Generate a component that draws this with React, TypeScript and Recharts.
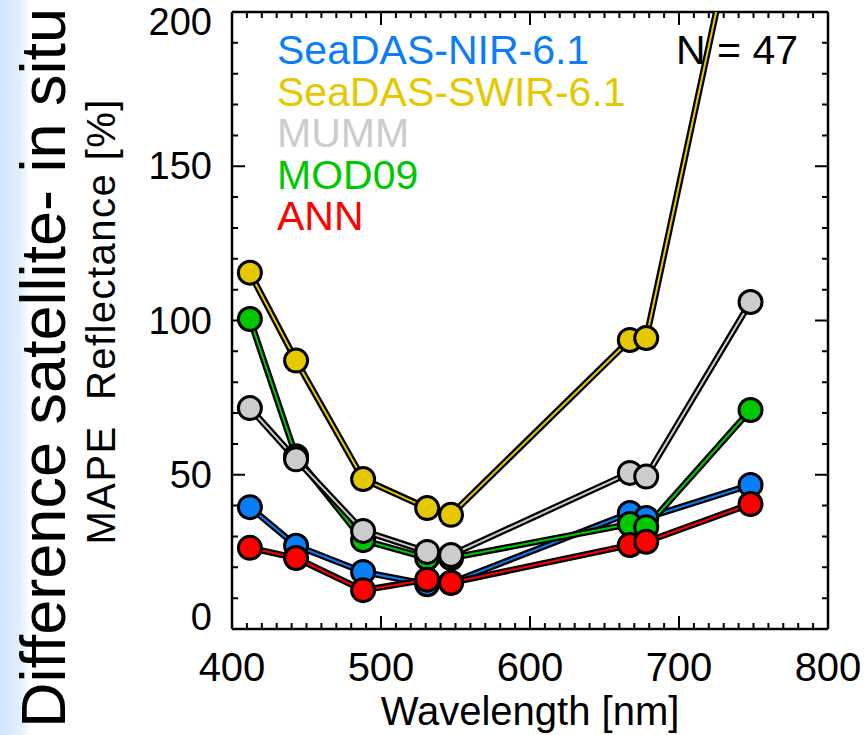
import React from "react";
import { LineChart, Line, XAxis, YAxis, ReferenceLine } from "recharts";

// MODIS band centres [nm]
const wavelengths = [412, 443, 488, 531, 547, 667, 678, 748];

// MAPE reflectance [%] per algorithm
const nir = [39.5, 27, 18.5, 14.5, 15, 37.6, 36, 46.7];
const swir = [115.5, 87, 48.6, 39.2, 37, 93.7, 94.3, 252];
const mumm = [71.6, 55, 31.8, 25, 24, 50.6, 49.4, 106];
const mod09 = [100.5, 56, 28.8, 23, 23, 34, 33, 71];
const ann = [26.3, 23, 12.6, 16, 15, 27.2, 28.3, 40.5];

const yMajor = [0, 50, 100, 150, 200];
const xMajor = [400, 500, 600, 700, 800];

const yTicks: number[] = [];
for (let v = 0; v <= 200; v += 10) yTicks.push(v);
const xTicks: number[] = [];
for (let v = 400; v <= 800; v += 10) xTicks.push(v);

const series = [
  { key: "nir", name: "SeaDAS-NIR-6.1", color: "#0a7ef8" },
  { key: "swir", name: "SeaDAS-SWIR-6.1", color: "#e6c800" },
  { key: "mumm", name: "MUMM", color: "#cccccc" },
  { key: "mod09", name: "MOD09", color: "#00c800" },
  { key: "ann", name: "ANN", color: "#ff0000" },
];
// order the curves are painted in
const drawOrder = ["nir", "mod09", "mumm", "swir", "ann"];

const data = wavelengths.map((wl, i) => ({
  wl,
  nir: nir[i],
  swir: swir[i],
  mumm: mumm[i],
  mod09: mod09[i],
  ann: ann[i],
}));

const FONT = "'Liberation Sans', Arial, Helvetica, sans-serif";

const xLabel = (p: any) => {
  if (!xMajor.includes(p.payload.value)) return <g key={"x" + p.index} />;
  return (
    <text key={"x" + p.index} x={p.x} y={Number(p.y) + 52} textAnchor="middle" fontSize={40} fontFamily={FONT} fill="#000">
      {p.payload.value}
    </text>
  );
};

const yLabel = (p: any) => {
  if (!yMajor.includes(p.payload.value)) return <g key={"y" + p.index} />;
  let shift = 0;
  if (p.payload.value === 200) shift = 10;
  if (p.payload.value === 0) shift = -12;
  return (
    <text key={"y" + p.index} x={Number(p.x) - 20} y={Number(p.y) + 13 + shift} textAnchor="end" fontSize={38} fontFamily={FONT} fill="#000">
      {p.payload.value}
    </text>
  );
};

// inward tick marks on both ends of a reference line
const hTick = (len: number) => (p: any) => {
  const a = Math.min(p.x1, p.x2);
  const b = Math.max(p.x1, p.x2);
  return <path d={`M${a},${p.y1}L${a + len},${p.y1}M${b},${p.y1}L${b - len},${p.y1}`} stroke="#000" strokeWidth={2} fill="none" />;
};
const vTick = (len: number) => (p: any) => {
  const a = Math.min(p.y1, p.y2);
  const b = Math.max(p.y1, p.y2);
  return <path d={`M${p.x1},${a}L${p.x1},${a + len}M${p.x1},${b}L${p.x1},${b - len}`} stroke="#000" strokeWidth={2} fill="none" />;
};

export default function App() {
  return (
    <div style={{ position: "fixed", left: 0, top: 0, width: 866, height: 735, background: "#fff", overflow: "hidden" }}>
      <svg width={866} height={735} style={{ position: "absolute", left: 0, top: 0 }}>
        <defs>
          <linearGradient id="side" x1="0" x2="1" y1="0" y2="0">
            <stop offset="0" stopColor="#d0e6fb" />
            <stop offset="0.7" stopColor="#e2f0fd" />
            <stop offset="1" stopColor="#ffffff" />
          </linearGradient>
        </defs>
        <rect x={0} y={0} width={30} height={735} fill="url(#side)" />
        <text transform="translate(65,368) rotate(-90)" textAnchor="middle" fontSize={63} fontFamily={FONT} fill="#000">
          Difference satellite- in situ
        </text>
        <text
          transform="translate(115,322) rotate(-90)"
          textAnchor="middle"
          fontSize={40}
          fontFamily={FONT}
          fill="#000"
          textLength={445}
          lengthAdjust="spacing"
          style={{ whiteSpace: "pre" }}
        >
          MAPE  Reflectance [%]
        </text>
        {series.map((s, i) => (
          <text key={s.key} x={277} y={64 + i * 41.5} fontSize={41} fontFamily={FONT} fill={s.color}>
            {s.name}
          </text>
        ))}
        <text x={798} y={64} textAnchor="end" fontSize={41} fontFamily={FONT} fill="#000">
          N = 47
        </text>
      </svg>
      <div style={{ position: "absolute", left: 0, top: 0 }}>
        <LineChart width={866} height={735} data={data} margin={{ top: 12, right: 38, bottom: 46, left: 152 }}>
          <XAxis
            dataKey="wl"
            type="number"
            domain={[400, 800]}
            ticks={xTicks}
            interval={0}
            allowDataOverflow
            height={60}
            tickSize={0}
            tickMargin={0}
            tickLine={false}
            axisLine={{ stroke: "#000", strokeWidth: 2.5 }}
            tick={xLabel}
            label={({ viewBox }: any) => (
              <text
                x={viewBox.x + viewBox.width / 2}
                y={viewBox.y + 96}
                textAnchor="middle"
                fontSize={40}
                fontFamily={FONT}
                fill="#000"
              >
                Wavelength [nm]
              </text>
            )}
          />
          <YAxis
            type="number"
            domain={[0, 200]}
            ticks={yTicks}
            interval={0}
            allowDataOverflow
            width={80}
            tickSize={0}
            tickMargin={0}
            tickLine={false}
            axisLine={{ stroke: "#000", strokeWidth: 2.5 }}
            tick={yLabel}
          />
          <ReferenceLine y={200} stroke="#000" strokeWidth={2.5} ifOverflow="visible" />
          <ReferenceLine x={800} stroke="#000" strokeWidth={2.5} ifOverflow="visible" />
          {yTicks.map((v) => (
            <ReferenceLine key={"ty" + v} y={v} ifOverflow="visible" shape={hTick(yMajor.includes(v) ? 13 : 6)} />
          ))}
          {xTicks.map((v) => (
            <ReferenceLine key={"tx" + v} x={v} ifOverflow="visible" shape={vTick(xMajor.includes(v) ? 13 : 6)} />
          ))}
          {drawOrder.map((k) => {
            const s = series.find((e) => e.key === k)!;
            return [
              <Line
                key={k + "-edge"}
                dataKey={k}
                stroke="#000"
                strokeWidth={6.5}
                dot={false}
                activeDot={false}
                legendType="none"
                isAnimationActive={false}
              />,
              <Line
                key={k}
                dataKey={k}
                name={s.name}
                stroke={s.color}
                strokeWidth={2}
                dot={{ r: 11.5, fill: s.color, stroke: "#000", strokeWidth: 3 }}
                activeDot={false}
                isAnimationActive={false}
              />,
            ];
          })}
        </LineChart>
      </div>
    </div>
  );
}
